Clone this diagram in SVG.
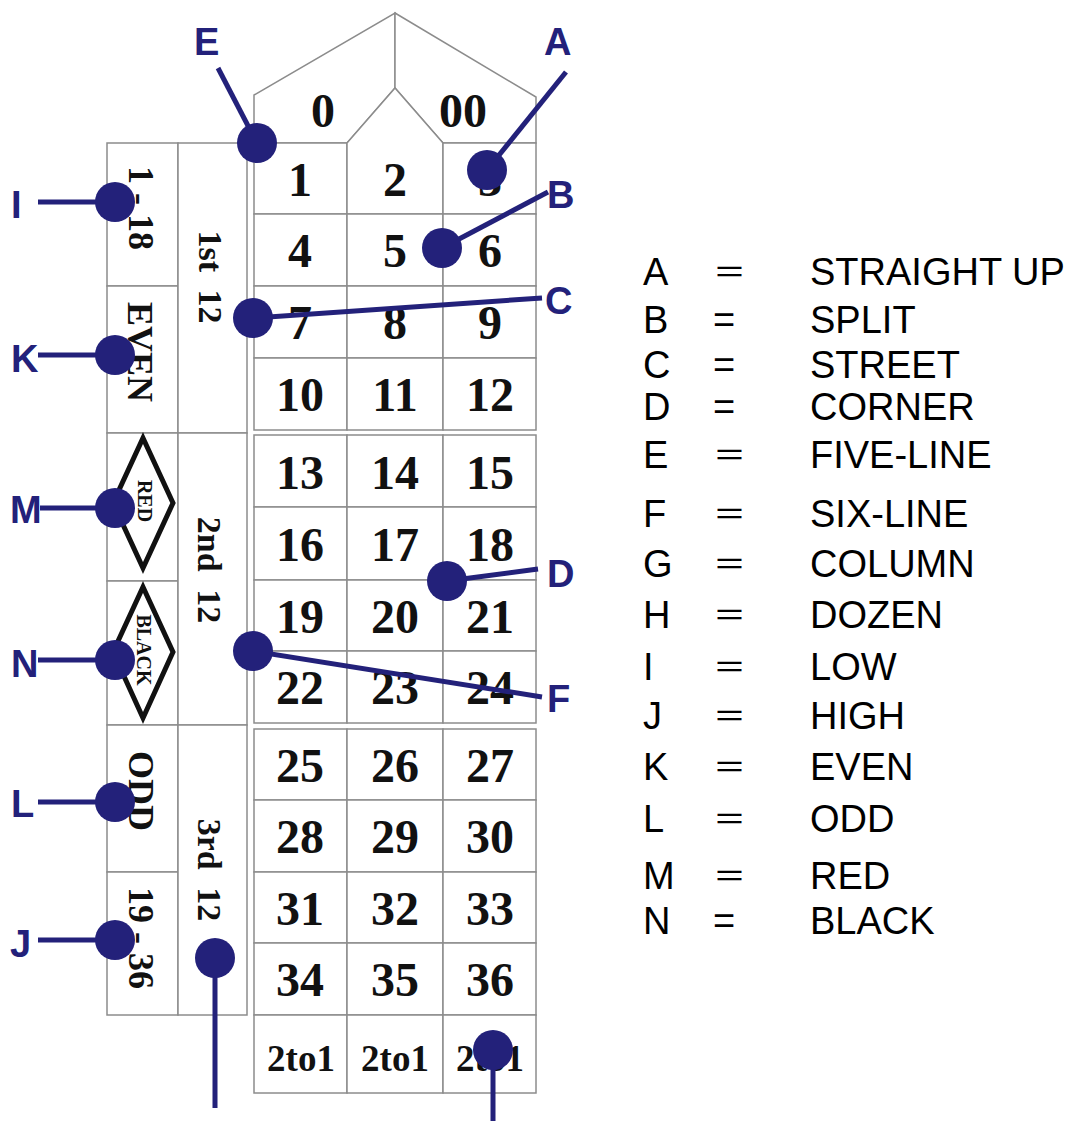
<svg xmlns="http://www.w3.org/2000/svg" width="1084" height="1121" viewBox="0 0 1084 1121">
<style>
.cell{fill:#fff;stroke:#8c8c8c;stroke-width:1.5}
.num{font-family:"Liberation Serif",serif;font-weight:bold;font-size:48px;fill:#111;text-anchor:middle}
.small{font-size:37px}
.rot{font-family:"Liberation Serif",serif;font-weight:bold;font-size:36px;fill:#111;text-anchor:middle}
.doz{font-size:34px;word-spacing:9px}
.dia{fill:#fff;stroke:#111;stroke-width:5;stroke-linejoin:miter}
.dtxt{font-family:"Liberation Serif",serif;font-weight:bold;font-size:20px;fill:#111;text-anchor:middle}
.lbl{font-family:"Liberation Sans",Arial,sans-serif;font-weight:bold;font-size:38px;fill:#23217a}
.leg{font-family:"Liberation Sans",Arial,sans-serif;font-size:38px;fill:#000}
.eq{font-family:"Noto Sans CJK SC","Liberation Sans",sans-serif;font-size:33px;fill:#000}
.con{stroke:#23217a;stroke-width:5;fill:none}
.dot{fill:#23217a}
</style>
<rect width="1084" height="1121" fill="#fff"/>

<!-- outside bets -->
<g id="low"><rect class="cell" x="107" y="143" width="71" height="143"/><text class="rot" transform="translate(129,208) rotate(90)">1 - 18</text></g>
<g id="even"><rect class="cell" x="107" y="286" width="71" height="147"/><text class="rot" transform="translate(128,352) rotate(90)">EVEN</text></g>
<g id="red"><rect class="cell" x="107" y="433" width="71" height="148"/><polygon class="dia" points="143,438 173,503 143,568 113,503"/><text class="dtxt" transform="translate(138,501) rotate(90)">RED</text></g>
<g id="black"><rect class="cell" x="107" y="581" width="71" height="144"/><polygon class="dia" points="143,587 173,652 143,718 113,652"/><text class="dtxt" transform="translate(137,650) rotate(90)">BLACK</text></g>
<g id="odd"><rect class="cell" x="107" y="725" width="71" height="147"/><text class="rot" transform="translate(129,791) rotate(90)">ODD</text></g>
<g id="high"><rect class="cell" x="107" y="872" width="71" height="143"/><text class="rot" transform="translate(129,938) rotate(90)">19 - 36</text></g>

<!-- dozens -->
<g id="dozen1"><rect class="cell" x="178" y="143" width="69" height="290"/><text class="rot doz" transform="translate(199,277) rotate(90)">1st 12</text></g>
<g id="dozen2"><rect class="cell" x="178" y="433" width="69" height="292"/><text class="rot doz" transform="translate(198,570) rotate(90)">2nd 12</text></g>
<g id="dozen3"><rect class="cell" x="178" y="725" width="69" height="290"/><text class="rot doz" transform="translate(198,870) rotate(90)">3rd 12</text></g>

<!-- zeros -->
<g id="zero"><polygon class="cell" points="254,143 254,95 395,13 395,88 347,143"/><text class="num" x="323" y="127">0</text></g>
<g id="doublezero"><polygon class="cell" points="395,13 536,97 536,143 443,143 395,88"/><text class="num" x="463" y="127">00</text></g>

<!-- dozen 1 numbers -->
<g id="n1"><rect class="cell" x="254" y="143" width="93" height="71"/><text class="num" x="300" y="196">1</text></g>
<g id="n2"><polygon class="cell" points="347,214 347,143 395,88 443,143 443,214"/><text class="num" x="395" y="196">2</text></g>
<g id="n3"><rect class="cell" x="443" y="143" width="93" height="71"/><text class="num" x="490" y="196">3</text></g>
<g id="n4"><rect class="cell" x="254" y="214" width="93" height="72"/><text class="num" x="300" y="267">4</text></g>
<g id="n5"><rect class="cell" x="347" y="214" width="96" height="72"/><text class="num" x="395" y="267">5</text></g>
<g id="n6"><rect class="cell" x="443" y="214" width="93" height="72"/><text class="num" x="490" y="267">6</text></g>
<g id="n7"><rect class="cell" x="254" y="286" width="93" height="72"/><text class="num" x="300" y="339">7</text></g>
<g id="n8"><rect class="cell" x="347" y="286" width="96" height="72"/><text class="num" x="395" y="339">8</text></g>
<g id="n9"><rect class="cell" x="443" y="286" width="93" height="72"/><text class="num" x="490" y="339">9</text></g>
<g id="n10"><rect class="cell" x="254" y="358" width="93" height="72"/><text class="num" x="300" y="411">10</text></g>
<g id="n11"><rect class="cell" x="347" y="358" width="96" height="72"/><text class="num" x="395" y="411">11</text></g>
<g id="n12"><rect class="cell" x="443" y="358" width="93" height="72"/><text class="num" x="490" y="411">12</text></g>

<!-- dozen 2 numbers -->
<g id="n13"><rect class="cell" x="254" y="435" width="93" height="72"/><text class="num" x="300" y="489">13</text></g>
<g id="n14"><rect class="cell" x="347" y="435" width="96" height="72"/><text class="num" x="395" y="489">14</text></g>
<g id="n15"><rect class="cell" x="443" y="435" width="93" height="72"/><text class="num" x="490" y="489">15</text></g>
<g id="n16"><rect class="cell" x="254" y="507" width="93" height="73"/><text class="num" x="300" y="561">16</text></g>
<g id="n17"><rect class="cell" x="347" y="507" width="96" height="73"/><text class="num" x="395" y="561">17</text></g>
<g id="n18"><rect class="cell" x="443" y="507" width="93" height="73"/><text class="num" x="490" y="561">18</text></g>
<g id="n19"><rect class="cell" x="254" y="580" width="93" height="71"/><text class="num" x="300" y="633">19</text></g>
<g id="n20"><rect class="cell" x="347" y="580" width="96" height="71"/><text class="num" x="395" y="633">20</text></g>
<g id="n21"><rect class="cell" x="443" y="580" width="93" height="71"/><text class="num" x="490" y="633">21</text></g>
<g id="n22"><rect class="cell" x="254" y="651" width="93" height="72"/><text class="num" x="300" y="704">22</text></g>
<g id="n23"><rect class="cell" x="347" y="651" width="96" height="72"/><text class="num" x="395" y="704">23</text></g>
<g id="n24"><rect class="cell" x="443" y="651" width="93" height="72"/><text class="num" x="490" y="704">24</text></g>

<!-- dozen 3 numbers -->
<g id="n25"><rect class="cell" x="254" y="729" width="93" height="71"/><text class="num" x="300" y="782">25</text></g>
<g id="n26"><rect class="cell" x="347" y="729" width="96" height="71"/><text class="num" x="395" y="782">26</text></g>
<g id="n27"><rect class="cell" x="443" y="729" width="93" height="71"/><text class="num" x="490" y="782">27</text></g>
<g id="n28"><rect class="cell" x="254" y="800" width="93" height="72"/><text class="num" x="300" y="853">28</text></g>
<g id="n29"><rect class="cell" x="347" y="800" width="96" height="72"/><text class="num" x="395" y="853">29</text></g>
<g id="n30"><rect class="cell" x="443" y="800" width="93" height="72"/><text class="num" x="490" y="853">30</text></g>
<g id="n31"><rect class="cell" x="254" y="872" width="93" height="71"/><text class="num" x="300" y="925">31</text></g>
<g id="n32"><rect class="cell" x="347" y="872" width="96" height="71"/><text class="num" x="395" y="925">32</text></g>
<g id="n33"><rect class="cell" x="443" y="872" width="93" height="71"/><text class="num" x="490" y="925">33</text></g>
<g id="n34"><rect class="cell" x="254" y="943" width="93" height="72"/><text class="num" x="300" y="996">34</text></g>
<g id="n35"><rect class="cell" x="347" y="943" width="96" height="72"/><text class="num" x="395" y="996">35</text></g>
<g id="n36"><rect class="cell" x="443" y="943" width="93" height="72"/><text class="num" x="490" y="996">36</text></g>

<!-- columns -->
<g id="col1"><rect class="cell" x="254" y="1015" width="93" height="78"/><text class="num small" x="301" y="1071">2to1</text></g>
<g id="col2"><rect class="cell" x="347" y="1015" width="96" height="78"/><text class="num small" x="395" y="1071">2to1</text></g>
<g id="col3"><rect class="cell" x="443" y="1015" width="93" height="78"/><text class="num small" x="490" y="1071">2to1</text></g>

<!-- connectors -->
<g id="connectors">
<line class="con" x1="218" y1="68" x2="257" y2="143"/>
<line class="con" x1="566" y1="72" x2="487" y2="170"/>
<line class="con" x1="548" y1="192" x2="442" y2="248"/>
<line class="con" x1="542" y1="298" x2="253" y2="318"/>
<line class="con" x1="538" y1="569" x2="447" y2="581"/>
<line class="con" x1="542" y1="697" x2="253" y2="651"/>
<line class="con" x1="38" y1="202" x2="115" y2="202"/>
<line class="con" x1="38" y1="355" x2="115" y2="355"/>
<line class="con" x1="40" y1="508" x2="115" y2="508"/>
<line class="con" x1="38" y1="660" x2="115" y2="660"/>
<line class="con" x1="38" y1="802" x2="115" y2="802"/>
<line class="con" x1="38" y1="940" x2="115" y2="940"/>
<line class="con" x1="215" y1="958" x2="215" y2="1108"/>
<line class="con" x1="493" y1="1050" x2="493" y2="1121"/>
<circle class="dot" cx="257" cy="143" r="20"/>
<circle class="dot" cx="487" cy="170" r="20"/>
<circle class="dot" cx="442" cy="248" r="20"/>
<circle class="dot" cx="253" cy="318" r="20"/>
<circle class="dot" cx="447" cy="581" r="20"/>
<circle class="dot" cx="253" cy="651" r="20"/>
<circle class="dot" cx="115" cy="202" r="20"/>
<circle class="dot" cx="115" cy="355" r="20"/>
<circle class="dot" cx="115" cy="508" r="20"/>
<circle class="dot" cx="115" cy="660" r="20"/>
<circle class="dot" cx="115" cy="802" r="20"/>
<circle class="dot" cx="115" cy="940" r="20"/>
<circle class="dot" cx="215" cy="958" r="20"/>
<circle class="dot" cx="493" cy="1050" r="20"/>
</g>

<!-- bet labels -->
<g id="labels">
<text class="lbl" x="194" y="55">E</text>
<text class="lbl" x="544" y="55">A</text>
<text class="lbl" x="547" y="208">B</text>
<text class="lbl" x="545" y="314">C</text>
<text class="lbl" x="547" y="587">D</text>
<text class="lbl" x="547" y="712">F</text>
<text class="lbl" x="11" y="218">I</text>
<text class="lbl" x="11" y="372">K</text>
<text class="lbl" x="10" y="523">M</text>
<text class="lbl" x="11" y="677">N</text>
<text class="lbl" x="11" y="817">L</text>
<text class="lbl" x="10" y="957">J</text>
</g>

<!-- legend -->
<g id="legend">
<text class="leg" x="643" y="285">A</text><text class="eq" x="713" y="284">＝</text><text class="leg" x="810" y="285">STRAIGHT UP</text>
<text class="leg" x="643" y="333">B</text><text class="leg" x="713" y="333">=</text><text class="leg" x="810" y="333">SPLIT</text>
<text class="leg" x="643" y="378">C</text><text class="leg" x="713" y="378">=</text><text class="leg" x="810" y="378">STREET</text>
<text class="leg" x="643" y="420">D</text><text class="leg" x="713" y="420">=</text><text class="leg" x="810" y="420">CORNER</text>
<text class="leg" x="643" y="468">E</text><text class="eq" x="713" y="467">＝</text><text class="leg" x="810" y="468">FIVE-LINE</text>
<text class="leg" x="643" y="527">F</text><text class="eq" x="713" y="526">＝</text><text class="leg" x="810" y="527">SIX-LINE</text>
<text class="leg" x="643" y="577">G</text><text class="eq" x="713" y="576">＝</text><text class="leg" x="810" y="577">COLUMN</text>
<text class="leg" x="643" y="628">H</text><text class="eq" x="713" y="627">＝</text><text class="leg" x="810" y="628">DOZEN</text>
<text class="leg" x="643" y="680">I</text><text class="eq" x="713" y="679">＝</text><text class="leg" x="810" y="680">LOW</text>
<text class="leg" x="643" y="729">J</text><text class="eq" x="713" y="728">＝</text><text class="leg" x="810" y="729">HIGH</text>
<text class="leg" x="643" y="780">K</text><text class="eq" x="713" y="779">＝</text><text class="leg" x="810" y="780">EVEN</text>
<text class="leg" x="643" y="832">L</text><text class="eq" x="713" y="831">＝</text><text class="leg" x="810" y="832">ODD</text>
<text class="leg" x="643" y="889">M</text><text class="eq" x="713" y="888">＝</text><text class="leg" x="810" y="889">RED</text>
<text class="leg" x="643" y="934">N</text><text class="leg" x="713" y="934">=</text><text class="leg" x="810" y="934">BLACK</text>
</g>
</svg>
